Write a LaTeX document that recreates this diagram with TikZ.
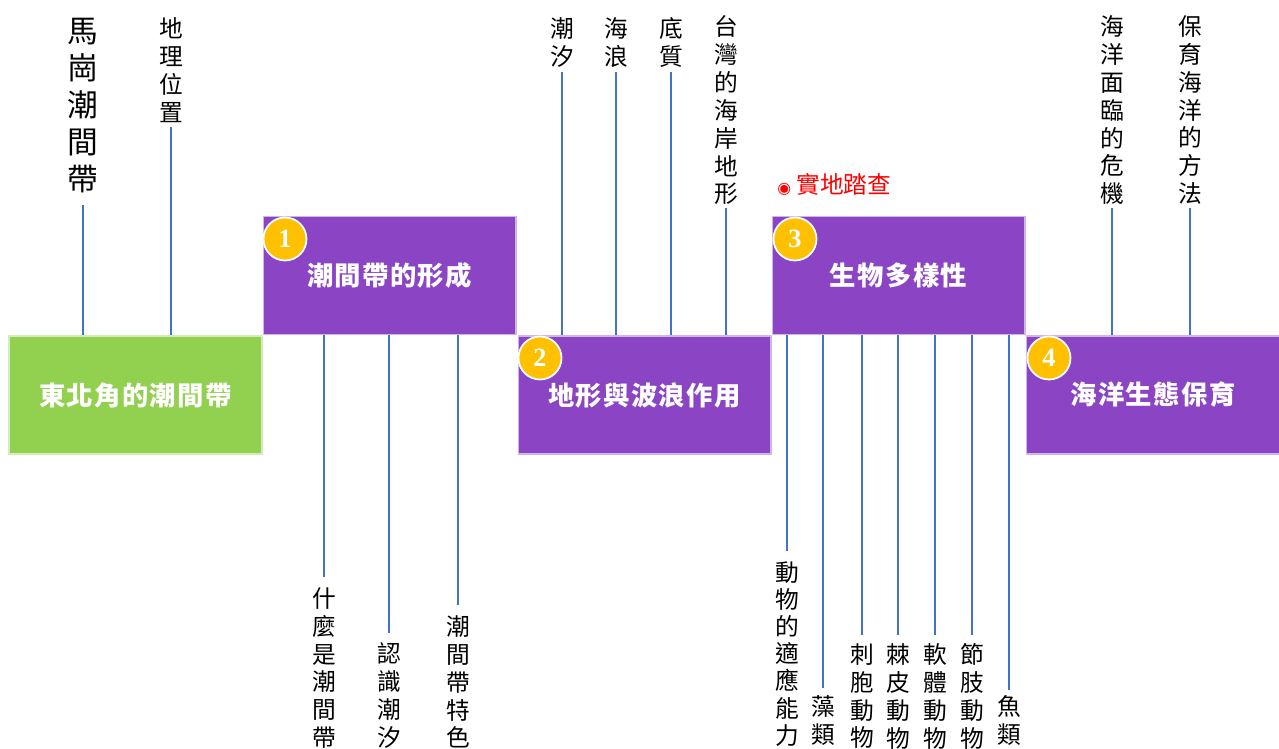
\documentclass[tikz,border=0pt]{standalone}
\usepackage{fontspec}
\newfontfamily\cjk{Noto Sans CJK TC}
\newfontfamily\cjksp[LetterSpace=5]{Noto Sans CJK TC}
\newfontfamily\symfont{DejaVu Sans}
\newfontfamily\numfont{Liberation Serif}
\definecolor{purp}{RGB}{139,69,196}
\definecolor{grn}{RGB}{146,208,80}
\definecolor{lineblue}{RGB}{68,114,196}
\definecolor{gold}{RGB}{255,192,0}
\definecolor{redtxt}{RGB}{255,0,0}
\tikzset{
  box/.style={rectangle, fill=#1, draw=#1!40!white, line width=0.6pt,
    minimum width=5.06cm, minimum height=2.36cm, inner sep=0, text=white,
    font=\cjksp\bfseries\fontsize{15}{18}\selectfont},
  num/.style={circle, fill=gold, draw=white, line width=1pt, minimum size=0.86cm,
    inner sep=0, text=white, font=\numfont\bfseries\fontsize{15}{16}\selectfont},
  lbl/.style={anchor=north, inner sep=0, align=center,
    font=\cjk\fontsize{13.5}{15.9}\selectfont},
  biglbl/.style={anchor=north, inner sep=0, align=center,
    font=\cjk\fontsize{17.5}{21}\selectfont},
  conn/.style={draw=lineblue, line width=1.2pt},
}
\begin{document}
\begin{tikzpicture}[x=0.02cm,y=-0.02cm]
\useasboundingbox (0,0) rectangle (1279,749);
% main boxes
\node[box=grn]  (b0) at (135.5,395) {東北角的潮間帶};
\node[box=purp] (b1) at (389.5,275.5) {潮間帶的形成};
\node[box=purp] (b2) at (644.5,395) {地形與波浪作用};
\node[box=purp] (b3) at (898.5,275.5) {生物多樣性};
\node[box=purp] (b4) at (1153,395) {海洋生態保育};
% number badges
\node[num] (n1) at (285,239) {1};
\node[num] (n2) at (540,358) {2};
\node[num] (n3) at (795,239) {3};
\node[num] (n4) at (1049,358) {4};
% field trip label
\node[anchor=west, inner sep=0, text=redtxt, font=\cjk\fontsize{13.5}{16}\selectfont] (trip) at (777,184)
  {{\symfont\fontsize{9}{9}\selectfont ◉}\hspace{3pt}實地踏查};
% labels above
\node[biglbl] (a0) at (83,18) {馬\\崗\\潮\\間\\帶};
\node[lbl] (a1) at (171,17) {地\\理\\位\\置};
\node[lbl] (a2) at (562,17) {潮\\汐};
\node[lbl] (a3) at (616,17) {海\\浪};
\node[lbl] (a4) at (671,17) {底\\質};
\node[lbl] (a5) at (726,15) {台\\灣\\的\\海\\岸\\地\\形};
\node[lbl] (a6) at (1112,15) {海\\洋\\面\\臨\\的\\危\\機};
\node[lbl] (a7) at (1190,15) {保\\育\\海\\洋\\的\\方\\法};
% labels below
\node[lbl] (c1) at (324,587) {什\\麼\\是\\潮\\間\\帶};
\node[lbl] (c2) at (389,642) {認\\識\\潮\\汐};
\node[lbl] (c3) at (458,615) {潮\\間\\帶\\特\\色};
\node[lbl, font=\cjk\fontsize{13.5}{15.5}\selectfont] (d1) at (787,561) {動\\物\\的\\適\\應\\能\\力};
\node[lbl] (d2) at (823,695) {藻\\類};
\node[lbl] (d3) at (862,643) {刺\\胞\\動\\物};
\node[lbl] (d4) at (898,643) {棘\\皮\\動\\物};
\node[lbl] (d5) at (935,643) {軟\\體\\動\\物};
\node[lbl] (d6) at (972,643) {節\\肢\\動\\物};
\node[lbl] (d7) at (1009,695) {魚\\類};
% connectors above
\draw[conn] (a0.south |- 0,205) -- (a0.south |- b0.north);
\draw[conn] (a1.south |- 0,127) -- (a1.south |- b0.north);
\draw[conn] (a2.south |- 0,72) -- (a2.south |- b2.north);
\draw[conn] (a3.south |- 0,72) -- (a3.south |- b2.north);
\draw[conn] (a4.south |- 0,72) -- (a4.south |- b2.north);
\draw[conn] (a5.south |- 0,208) -- (a5.south |- b2.north);
\draw[conn] (a6.south |- 0,208) -- (a6.south |- b4.north);
\draw[conn] (a7.south |- 0,208) -- (a7.south |- b4.north);
% connectors below
\draw[conn] (c1.north |- b1.south) -- (c1.north |- 0,577);
\draw[conn] (c2.north |- b1.south) -- (c2.north |- 0,633);
\draw[conn] (c3.north |- b1.south) -- (c3.north |- 0,605);
\draw[conn] (d1.north |- b3.south) -- (d1.north |- 0,551);
\draw[conn] (d2.north |- b3.south) -- (d2.north |- 0,688);
\draw[conn] (d3.north |- b3.south) -- (d3.north |- 0,635);
\draw[conn] (d4.north |- b3.south) -- (d4.north |- 0,635);
\draw[conn] (d5.north |- b3.south) -- (d5.north |- 0,635);
\draw[conn] (d6.north |- b3.south) -- (d6.north |- 0,635);
\draw[conn] (d7.north |- b3.south) -- (d7.north |- 0,690);
\end{tikzpicture}
\end{document}
